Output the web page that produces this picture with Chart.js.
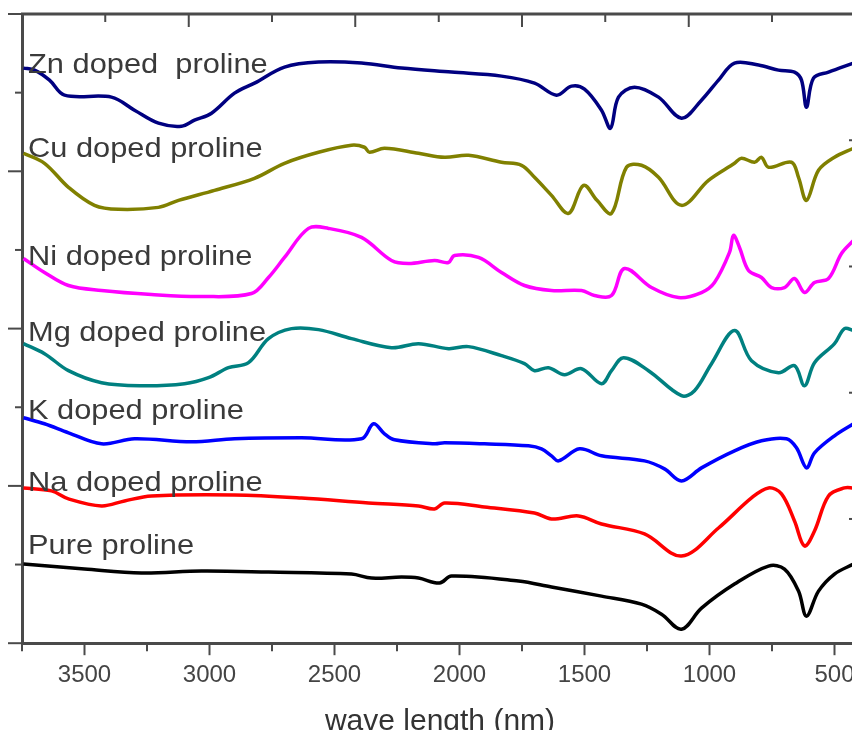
<!DOCTYPE html>
<html>
<head>
<meta charset="utf-8">
<script src="https://cdn.jsdelivr.net/npm/chart.js@4"></script>
<style>
  html, body { margin: 0; padding: 0; background: #fff; overflow: hidden; }
</style>
</head>
<body>
<canvas id="myChart" width="872" height="760"></canvas>
<script>
// wavenumber (cm-1) and transmittance in arbitrary units, stacked
const znWave = [3744,3700,3640,3580,3392,3300,3204,3112,3060,2992,2900,2820,2700,2564,2392,2232,2032,1832,1700,1612,1552,1500,1432,1396,1364,1300,1204,1112,1032,964,900,804,724,660,632,612,584,524,424];
const znT    = [574,572,562,547,545,532,519,516,522,529,549,559,575,580,579,574,570,566,559,547,556,553,532,514,545,555,545,524,542,562,579,577,572,570,562,535,564,570,579];

const cuWave = [3744,3660,3564,3460,3364,3204,3124,2980,2820,2700,2564,2432,2380,2360,2300,2164,2060,1964,1832,1752,1700,1632,1564,1504,1450,1392,1332,1272,1204,1112,1004,900,872,820,792,764,672,644,612,564,500,424];
const cuT    = [489,479,455,437,433,435,442,452,464,479,490,497,495,490,494,489,485,487,480,477,465,447,429,457,442,429,475,477,465,437,462,479,484,480,485,475,480,465,442,472,485,494];

const niWave = [3744,3660,3564,3432,3232,3032,2832,2764,2700,2604,2524,2392,2272,2204,2100,2044,2020,1924,1832,1740,1632,1512,1460,1392,1340,1232,1124,1032,980,920,904,880,844,792,752,700,660,620,580,524,472,424];
const niT    = [384,370,357,352,348,346,349,365,385,414,414,405,382,379,382,380,387,385,370,357,352,352,347,347,374,355,345,350,360,390,407,395,372,365,355,355,364,350,360,364,389,402];

const mgWave = [3744,3660,3564,3432,3272,3100,3004,2924,2844,2764,2672,2564,2432,2272,2164,2044,1964,1832,1740,1700,1644,1580,1512,1432,1392,1344,1244,1112,1060,992,900,832,724,660,620,580,500,460,424];
const mgT    = [299,289,272,260,257,259,265,275,280,304,314,313,304,295,299,294,296,287,279,272,275,268,274,259,272,285,272,247,252,279,312,282,270,277,257,280,299,314,312];

const kWave  = [3744,3660,3564,3432,3300,3072,2900,2632,2392,2344,2300,2260,2100,2060,1900,1724,1672,1632,1604,1520,1432,1260,1180,1112,1032,900,792,692,652,612,580,500,424];
const kT     = [225,219,210,199,204,201,204,205,204,219,209,203,199,200,199,197,194,187,182,194,187,182,174,162,175,192,202,204,195,175,190,207,219];

const naWave = [3744,3632,3564,3432,3340,3232,2900,2632,2364,2164,2100,2060,1900,1700,1632,1524,1432,1260,1112,964,832,764,712,660,620,580,524,460,424];
const naT    = [155,152,144,137,142,147,148,145,140,137,134,140,136,130,124,127,119,109,87,115,145,155,149,122,97,112,147,155,155];

const pureWave = [3744,3500,3272,3032,2764,2432,2352,2232,2164,2080,2032,1764,1632,1432,1272,1192,1112,1032,900,764,700,644,612,564,500,424];
const pureT    = [79,74,70,72,71,69,65,66,65,60,67,62,56,47,39,29,14,35,59,77,74,52,27,52,69,79];

const seriesNames = ["Zn doped  proline", "Cu doped proline", "Ni doped proline", "Mg doped proline", "K doped proline", "Na doped proline", "Pure proline"];
const xTicks = [3500, 3000, 2500, 2000, 1500, 1000, 500];
const xMinorTicks = [3750, 3250, 2750, 2250, 1750, 1250, 750];
const topTicks = [3750, 3417, 3083, 2750, 2417, 2083, 1750, 1417, 1083, 750, 417];
const leftTicks = [0, 78.5, 157, 235.5, 314, 392.5, 471, 549.5, 628];
const rightTicks = [124, 250, 376, 502];

const colors = ["#000080", "#808000", "#ff00ff", "#008080", "#0000ff", "#ff0000", "#000000"];
const waves = [znWave, cuWave, niWave, mgWave, kWave, naWave, pureWave];
const values = [znT, cuT, niT, mgT, kT, naT, pureT];
// where each name sits (baseline, same units as the data)
const labelWave = 3726;
const labelT = [569, 485, 377, 302, 224, 152, 89];

const FONT = '"Liberation Sans", Arial, sans-serif';

const frame = {
    id: 'frame',
    afterDraw(chart) {
        const { ctx, chartArea: a, scales: { x, y } } = chart;
        ctx.save();
        ctx.strokeStyle = '#4a4a4a';
        ctx.lineCap = 'butt';
        const line = (x1, y1, x2, y2, w) => {
            ctx.lineWidth = w;
            ctx.beginPath();
            ctx.moveTo(x1, y1);
            ctx.lineTo(x2, y2);
            ctx.stroke();
        };
        line(a.left - 1, a.top, a.right, a.top, 3);
        line(a.right, a.top, a.right, a.bottom, 3);
        xMinorTicks.forEach(v => {
            const px = x.getPixelForValue(v);
            line(px, a.bottom, px, a.bottom + 8, 2);
        });
        topTicks.forEach((v, i) => {
            const px = x.getPixelForValue(v);
            line(px, a.top, px, a.top + (i % 2 ? 8 : 13), 2);
        });
        leftTicks.forEach((v, i) => {
            const py = y.getPixelForValue(v);
            line(a.left - (i % 2 ? 7 : 14), py, a.left, py, 2);
        });
        rightTicks.forEach(v => {
            const py = y.getPixelForValue(v);
            line(a.right - 9, py, a.right, py, 2);
        });
        ctx.fillStyle = '#3a3a3a';
        ctx.font = '28px ' + FONT;
        ctx.textBaseline = 'alphabetic';
        seriesNames.forEach((name, i) => {
            ctx.save();
            ctx.translate(x.getPixelForValue(labelWave), y.getPixelForValue(labelT[i]));
            ctx.scale(1.1, 1);
            ctx.fillText(name, 0, 0);
            ctx.restore();
        });
        ctx.restore();
    }
};

const ctx = document.getElementById('myChart');

new Chart(ctx, {
    type: 'line',
    data: {
        datasets: seriesNames.map((name, i) => ({
            label: name,
            data: waves[i].map((w, j) => ({ x: w, y: values[i][j] })),
            borderColor: colors[i],
            borderWidth: 3.5,
            pointRadius: 0,
            tension: 0.35,
            fill: false
        }))
    },
    options: {
        responsive: false,
        animation: false,
        layout: { padding: { left: 22, top: 14, right: 14, bottom: 20 } },
        plugins: {
            legend: { display: false },
            tooltip: { enabled: false }
        },
        scales: {
            x: {
                type: 'linear',
                reverse: true,
                min: 406,
                max: 3750,
                afterBuildTicks: s => { s.ticks = xTicks.map(v => ({ value: v })); },
                ticks: {
                    color: '#444',
                    font: { family: FONT, size: 24 },
                    padding: 6,
                    maxRotation: 0,
                    callback: v => String(v)
                },
                grid: {
                    drawOnChartArea: false,
                    drawTicks: true,
                    tickLength: 12,
                    tickWidth: 2,
                    tickColor: '#4a4a4a'
                },
                border: { color: '#4a4a4a', width: 3 },
                title: {
                    display: true,
                    text: 'wave length (nm)',
                    color: '#333',
                    font: { family: FONT, size: 30 },
                    padding: { top: 8, bottom: 0 }
                }
            },
            y: {
                type: 'linear',
                min: 0,
                max: 628,
                ticks: { display: false },
                grid: { drawOnChartArea: false, drawTicks: false },
                border: { color: '#4a4a4a', width: 3 }
            }
        }
    },
    plugins: [frame]
});
</script>
</body>
</html>
